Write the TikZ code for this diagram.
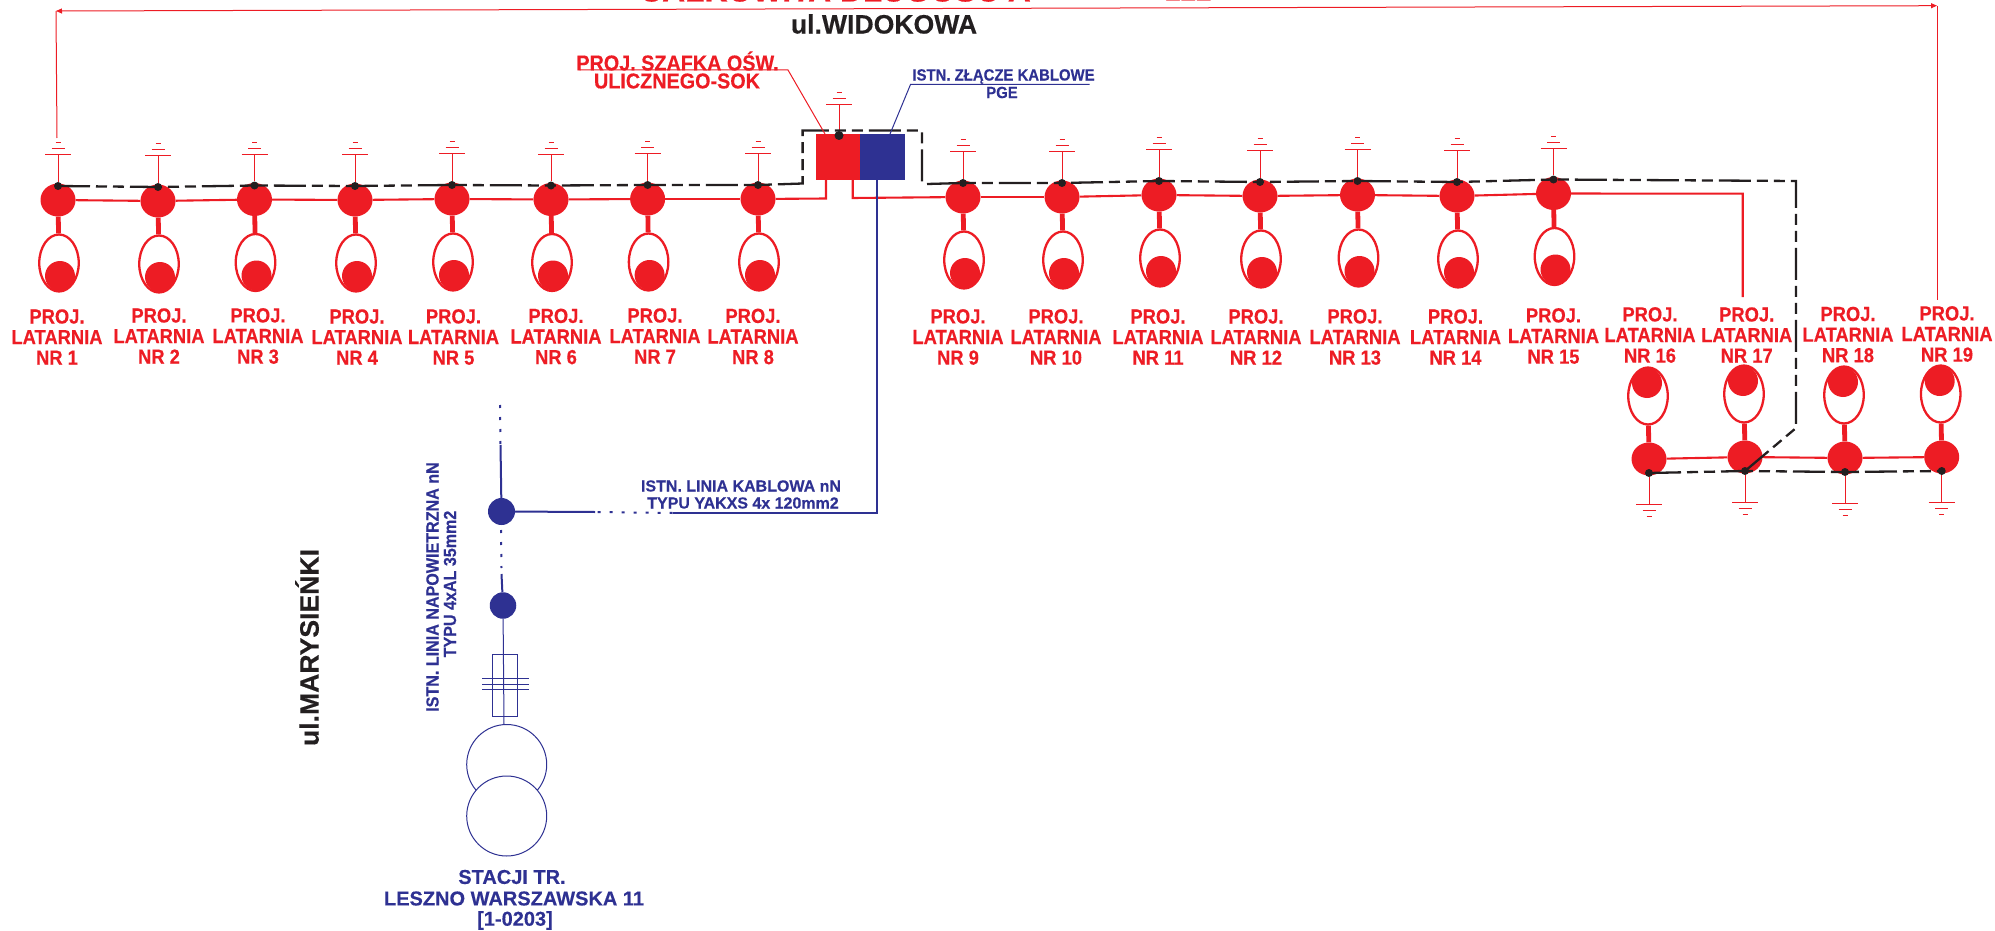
\documentclass[tikz,border=0pt]{standalone}
\usepackage{fontspec}
\setmainfont{Liberation Sans}[BoldFeatures={FakeBold=0.35}]
\newfontfamily\condf[FakeStretch=0.9,BoldFeatures={FakeBold=0.35}]{Liberation Sans}
\newfontfamily\narrowf[FakeStretch=0.92,BoldFeatures={FakeBold=0.35}]{Liberation Sans}
\usetikzlibrary{shapes.geometric,arrows.meta}
\definecolor{lred}{HTML}{ED1C24}
\definecolor{lblue}{HTML}{2E3192}
\definecolor{lblack}{HTML}{231F20}
\tikzset{
  headnode/.style={ellipse,fill=lred,inner sep=0pt,minimum width=35pt,minimum height=33pt},
  globenode/.style={ellipse,draw=lred,line width=2.3pt,fill=white,inner sep=0pt,minimum width=39.5pt,minimum height=57pt},
  bulbnode/.style={circle,fill=lred,inner sep=0pt,minimum size=30pt},
  dotnode/.style={circle,fill=lblack,inner sep=0pt,minimum size=8pt},
  lamptext/.style={text=lred,align=center,inner sep=0pt,font=\condf\bfseries\fontsize{20.4}{20.6}\selectfont},
  redwire/.style={draw=lred,line width=2.1pt},
  stemwire/.style={draw=lred,line width=4.8pt},
  thinred/.style={draw=lred,line width=1pt},
  blueline/.style={draw=lblue,line width=2pt},
  thinblue/.style={draw=lblue,line width=1pt},
  blackdash/.style={draw=lblack,line width=2.3pt,dash pattern=on 32pt off 6pt on 11pt off 6pt on 11pt off 6pt},
  bluedots/.style={draw=lblue,line width=2pt,dash pattern=on 3pt off 9pt},
  bluetext/.style={text=lblue,align=center,inner sep=0pt,font=\bfseries},
  redtext/.style={text=lred,align=center,inner sep=0pt,font=\bfseries},
  blacktext/.style={text=lblack,inner sep=0pt,font=\bfseries\fontsize{26.6}{28}\selectfont},
  bluedot/.style={circle,fill=lblue,inner sep=0pt},
}
\begin{document}
\begin{tikzpicture}[x=1pt,y=-1pt]
\useasboundingbox (0,0) rectangle (1995,931);
\clip (0,0) rectangle (1995,931);
% lamps: number / x / y / label x / label y / direction
\foreach \n/\x/\y/\lx/\ly/\dir in {
 1/58/200/57/337/1, 2/158/201/159/336/1, 3/254.5/199.5/258/336/1, 4/355/200/357/337/1,
 5/452/199/453.5/337/1, 6/551/199.5/556/336.5/1, 7/647.6/199/655/336/1, 8/758/199/753/336.5/1,
 9/963/197/958/337/1, 10/1062/197/1056/337/1, 11/1159/195/1158/337/1, 12/1260/196/1256/337/1,
 13/1357.5/195/1355/337/1, 14/1457/196/1455.5/337/1, 15/1553.5/193.5/1553.5/336/1,
 16/1649/459/1650/335/-1, 17/1745/457/1746.7/335/-1, 18/1845/458/1848/334.6/-1, 19/1941.7/457/1947/334/-1}{
  \node[headnode] (h\n) at (\x,\y) {};
  \node[globenode] (e\n) at ({\x+\dir*1},{\y+\dir*63}) {};
  \node[bulbnode] (b\n) at ({\x+\dir*2},{\y+\dir*76}) {};
  \draw[stemwire] (h\n) -- (e\n);
  \node[dotnode] (d\n) at (\x,{\y-\dir*14}) {};
  \coordinate (g\n) at (\x,{\y-\dir*45});
  \draw[thinred] (d\n) -- (g\n);
  \draw[thinred] ({\x-13},{\y-\dir*45}) -- ({\x+13},{\y-\dir*45});
  \draw[thinred] ({\x-6.5},{\y-\dir*51}) -- ({\x+6.5},{\y-\dir*51});
  \draw[thinred] ({\x-2.5},{\y-\dir*57}) -- ({\x+2.5},{\y-\dir*57});
  \node[lamptext] (t\n) at (\lx,\ly) {PROJ.\\LATARNIA\\NR \n};
}
% cabinet
\node[draw=none,fill=lred,minimum width=44pt,minimum height=46pt,inner sep=0pt] (cabr) at (838,157) {};
\node[draw=none,fill=lblue,minimum width=45pt,minimum height=46pt,inner sep=0pt] (cabb) at (882.5,157) {};
\node[dotnode,minimum height=9pt] (d0) at (839,135.5) {};
\coordinate (g0) at (839,105);
\draw[thinred] (d0) -- (g0);
\draw[thinred] (826,105) -- (852,105);
\draw[thinred] (832.5,99) -- (845.5,99);
\draw[thinred] (836.5,93) -- (841.5,93);
% red wires
\foreach \a/\b in {1/2,2/3,3/4,4/5,5/6,6/7,7/8,9/10,10/11,11/12,12/13,13/14,14/15,16/17,17/18,18/19}{
  \draw[redwire] (h\a) -- (h\b);
}
\coordinate (ra) at (826,198.5);
\coordinate (rb) at (826,180);
\coordinate (rc) at (852.7,180);
\coordinate (rd) at (852.7,198);
\draw[redwire] (h8) -- (ra) -- (rb);
\draw[redwire] (rc) -- (rd) -- (h9);
\coordinate (re) at (1742.7,193.7);
\coordinate (rf) at (1742.7,297);
\draw[redwire] (h15.center) -- (re) -- (rf);
% black dashed
\coordinate (k1) at (802.6,183.5);
\coordinate (k2) at (802.6,130.5);
\coordinate (k3) at (922,130.5);
\coordinate (k4) at (922,183);
\coordinate (k5) at (927,184);
\coordinate (k6) at (1796,181);
\coordinate (k7) at (1796,428);
\draw[blackdash] (d1.center) -- (d2.center) -- (d3.center) -- (d4.center) -- (d5.center) -- (d6.center) -- (d7.center) -- (d8.center) -- (k1) -- (k2) -- (k3) -- (k4);
\draw[blackdash] (k5) -- (d9.center) -- (d10.center) -- (d11.center) -- (d12.center) -- (d13.center) -- (d14.center) -- (d15.center) -- (k6) -- (k7) -- (d17.center);
\draw[blackdash] (d16.center) -- (d17.center) -- (d18.center) -- (d19.center);
% top red arrow line
\coordinate (a0) at (57,138);
\coordinate (a1) at (56,11);
\coordinate (a2) at (1937,5.7);
\coordinate (a3) at (1937,300);
\draw[thinred] (a0) -- (a1);
\draw[thinred,{Triangle[length=6pt,width=5pt]}-{Triangle[length=6pt,width=5pt]}] (a1) -- (a2);
\draw[thinred] (a2) -- (a3);
% leader labels
\node[redtext,font=\narrowf\bfseries\fontsize{21.5}{22}\selectfont] (szafka1) at (677.5,61) {PROJ. SZAFKA OŚW.};
\node[redtext,font=\narrowf\bfseries\fontsize{21.5}{22}\selectfont] (szafka2) at (677,81) {ULICZNEGO-SOK};
\coordinate (la) at (579.5,70);
\coordinate (lb) at (788,70);
\coordinate (lc) at (825,134);
\draw[thinred] (la) -- (lb) -- (lc);
\node[bluetext,font=\narrowf\bfseries\fontsize{16.2}{17}\selectfont] (zl1) at (1003.5,76.5) {ISTN. ZŁĄCZE KABLOWE};
\node[bluetext,font=\narrowf\bfseries\fontsize{16.2}{17}\selectfont] (zl2) at (1002,92.5) {PGE};
\coordinate (ma) at (1089.6,84.5);
\coordinate (mb) at (910.5,84.5);
\coordinate (mc) at (890,134);
\draw[thinblue] (ma) -- (mb) -- (mc);
% street labels
\node[blacktext] (wid) at (884,24) {ul.WIDOKOWA};
\node[blacktext,rotate=90] (mar) at (307,647.5) {ul.MARYSIEŃKI};
% cropped heading
\node[redtext,font=\bfseries\fontsize{31.8}{33}\selectfont,anchor=base] (head1) at (835,1.5) {CAŁKOWITA DŁUGOŚĆ A};
\node[text=lred!55,inner sep=0pt,font=\fontsize{31.8}{33}\selectfont,anchor=base] (head2) at (1188,1.3) {111};
% blue network
\node[bluedot,minimum size=27pt] (n1) at (501.5,511.5) {};
\node[bluedot,minimum size=26.5pt] (n2) at (503,605.5) {};
\coordinate (b1) at (877,180);
\coordinate (b2) at (877,513);
\coordinate (b3) at (672.7,513);
\coordinate (b4) at (595,512);
\draw[blueline] (cabb.south -| b1) -- (b2) -- (b3);
\draw[bluedots] (b3) -- (b4);
\draw[blueline] (b4) -- (n1);
\coordinate (v1) at (500,405);
\coordinate (v2) at (500.5,445);
\draw[bluedots] (v1) -- (v2);
\draw[blueline] (v2) -- (n1);
\coordinate (v3) at (501,530);
\coordinate (v4) at (501.5,568);
\coordinate (v5) at (501.5,574);
\draw[bluedots] (v3) -- (v4);
\draw[blueline] (v5) -- (n2);
\node[draw=lblue,line width=1pt,minimum width=25.5pt,minimum height=62.5pt,inner sep=0pt] (fuse) at (505,685.7) {};
\coordinate (tt) at (504,724.5);
\draw[thinblue] (n2) -- (tt);
\draw[thinblue] (482,678.6) -- (529,678.6);
\draw[thinblue] (482,684) -- (529,684);
\draw[thinblue] (482,689.3) -- (529,689.3);
\node[circle,draw=lblue,line width=1pt,fill=white,inner sep=0pt,minimum size=80pt] (tr1) at (506.7,764.5) {};
\node[circle,draw=lblue,line width=1pt,fill=white,inner sep=0pt,minimum size=80pt] (tr2) at (506.7,816) {};
\node[bluetext,rotate=90,font=\narrowf\bfseries\fontsize{17.5}{18}\selectfont] (lin1) at (432.5,587) {ISTN. LINIA NAPOWIETRZNA nN};
\node[bluetext,rotate=90,font=\narrowf\bfseries\fontsize{17.5}{18}\selectfont] (lin2) at (450,584) {TYPU 4xAL 35mm2};
\node[bluetext,font=\bfseries\fontsize{16}{18}\selectfont] (kab1) at (741,486) {ISTN. LINIA KABLOWA nN};
\node[bluetext,font=\bfseries\fontsize{16}{18}\selectfont] (kab2) at (743,503) {TYPU YAKXS 4x 120mm2};
\node[bluetext,font=\bfseries\fontsize{20}{21.5}\selectfont] (st1) at (512,877) {STACJI TR.};
\node[bluetext,font=\bfseries\fontsize{20}{21.5}\selectfont] (st2) at (514,898.5) {LESZNO WARSZAWSKA 11};
\node[bluetext,font=\bfseries\fontsize{20}{21.5}\selectfont] (st3) at (515,920.5) {[1-0203]};
\end{tikzpicture}
\end{document}
